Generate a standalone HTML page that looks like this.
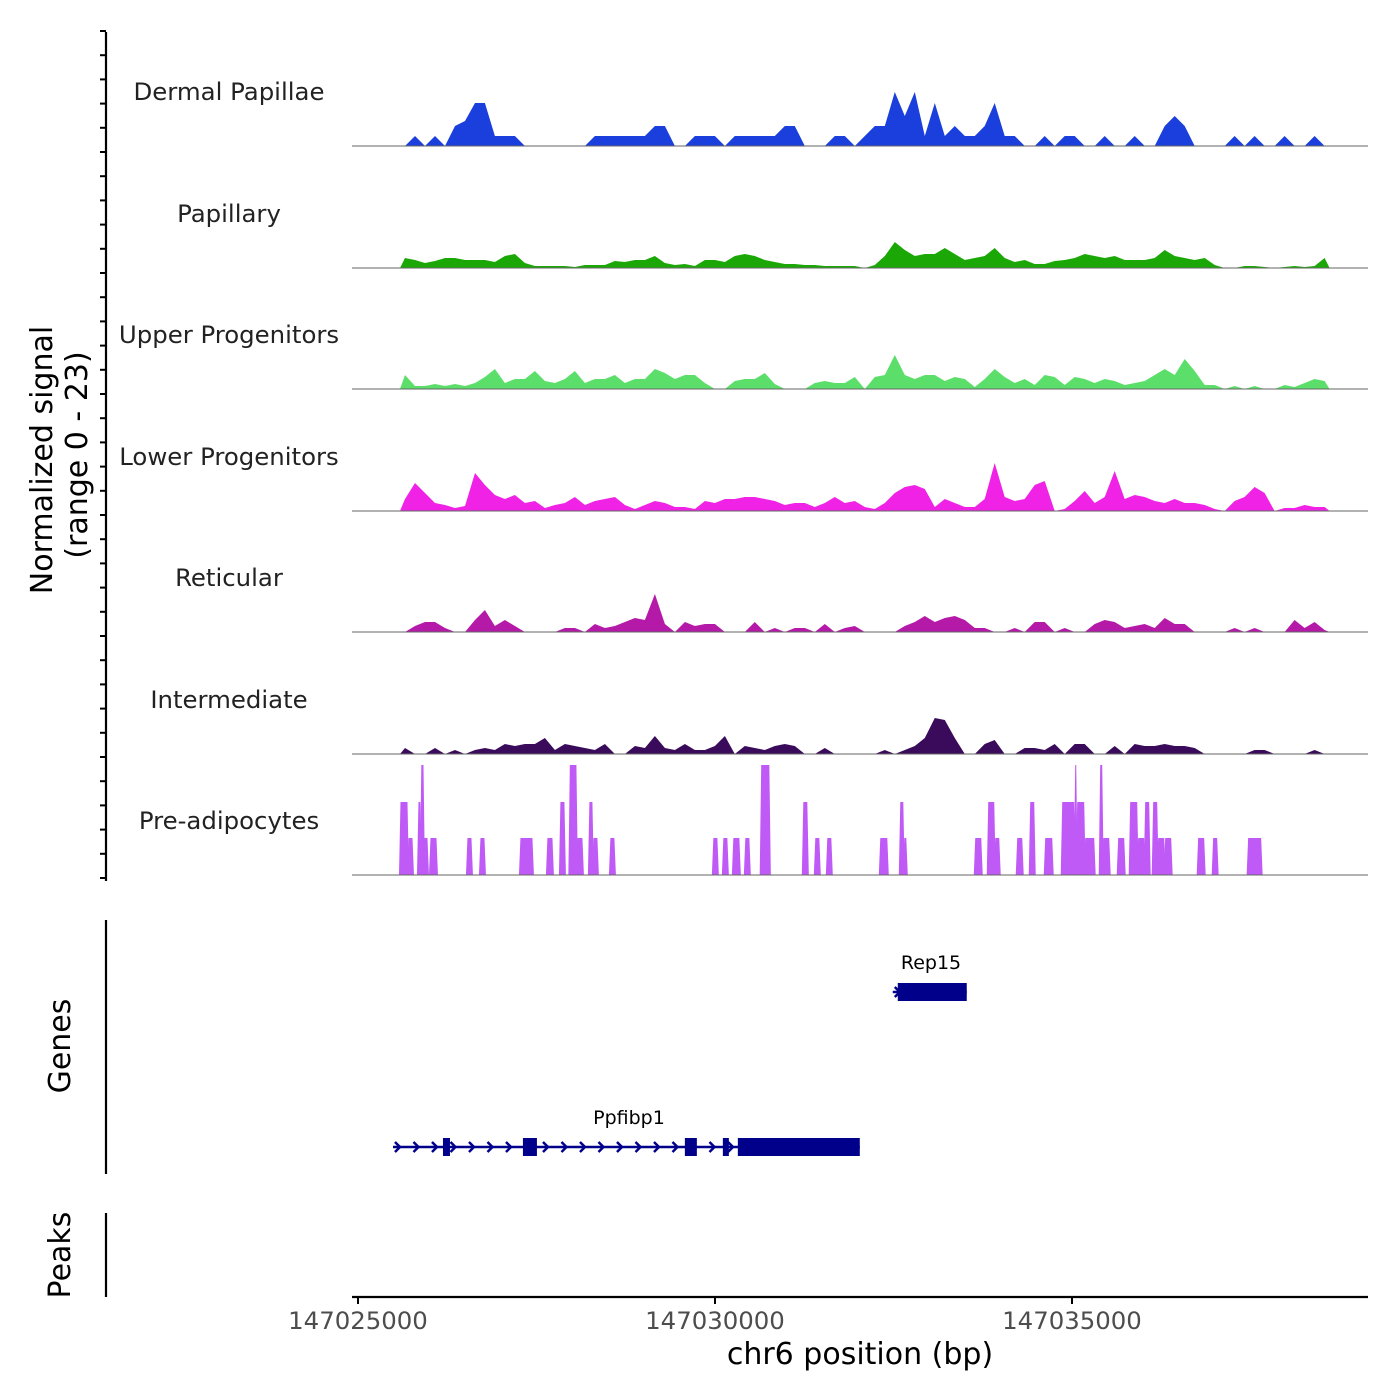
<!DOCTYPE html>
<html><head><meta charset="utf-8"><style>
html,body{margin:0;padding:0;background:#fff;}
svg{display:block;font-family:"DejaVu Sans","Liberation Sans",sans-serif;}
</style></head><body>
<svg id="chart" width="1400" height="1400" viewBox="0 0 1400 1400">
<g id="tracks"></g>
<g id="axes"></g>
<g id="genes"></g>
</svg>
<script>
// ---- data ----
const trackNames = ["Dermal Papillae","Papillary","Upper Progenitors","Lower Progenitors","Reticular","Intermediate"];
const trackColors = ["#1a3fdd","#1ba806","#5cdf6a","#ef22e6","#b419a8","#3a0b5a"];
const binStart = 147025588; // bp of first bin
const binSize = 140;        // bp per bin
const dermal = [0,2,0,2,0,4,5,8.6,8.6,2,2,2,0,0,0,0,0,0,0,2,2,2,2,2,2,4,4,0,0,2,2,2,0,2,2,2,2,2,4,4,0,0,0,2,2,0,2,4,4,10.8,6,10.8,2,8.6,2,4,2,2,4,8.6,2,2,0,0,2,0,2,2,0,0,2,0,0,2,0,0,4,6,4,0,0,0,0,2,0,2,0,0,2,0,0,2,0];
const papillary = [2,1.6,1,1.4,2,2,1.6,1.6,1.6,1.2,2.4,2.8,1,0.4,0.4,0.4,0.4,0.2,0.6,0.6,0.6,1.4,1.2,1.6,1.6,2.4,1,0.6,0.8,0.4,1.6,1.6,1.2,2.4,2.8,2.4,1.6,1.2,0.8,0.8,0.6,0.6,0.4,0.4,0.4,0.4,0,0.6,2.4,5.2,3.6,2.4,2.8,2.8,4,2.8,1.6,2,2.4,4,2,1.2,1.6,0.8,0.8,1.4,1.6,2,2.8,2.4,2,2.4,1.6,1.6,1.6,2,3.6,2.4,2,1.6,2,0.6,0,0,0.4,0.4,0.2,0,0.2,0.4,0.2,0.4,2];
const upper = [2.8,0.6,0.6,1,0.6,1,0.6,1.2,2.4,4,1.2,2,2,3.6,1.6,1.2,2,3.6,1.2,2,2,2.8,1.2,2,2,4,3.2,2,2.8,2.8,1.2,0,0,1.6,2,2,3.2,1,0,0,0,1.2,1.6,1.2,1.2,2.4,0,2.4,2.8,6.8,2.8,2,2.8,2.8,1.6,2.4,2,0.4,2,4,2.4,1.2,2,0.8,2.8,2.4,0.8,2.4,2,1.2,2,1.6,0.8,1.2,1.6,2.8,4,2.8,6,3.6,0.8,0.8,0,0.6,0,0.6,0,0,0.8,0.4,1.2,2,1.6];
const lower = [2.4,5.6,3.6,1.6,1.2,0.6,1,7.6,5.2,3.2,2.4,3.2,1.6,2,0.6,1.2,1.6,2.8,1.2,2,2.4,2.8,1.2,0.4,1.2,2,1.6,0.8,0.8,0.4,2,1.6,2.4,2.4,2.8,2.8,2.4,2,1.2,1.6,1.6,0.8,1.6,2.8,1.6,2,0.8,0.4,1.6,3.6,4.8,5.2,4.4,0.8,2.4,1.6,0.8,0.8,2.4,9.6,2.8,2,2.4,5.2,6,0,0.4,2,4,1.6,2.8,8,2.4,3.2,2.8,2,1.6,2.4,1.6,1.6,1.2,0.4,0,2,2.8,4.8,3.6,0,0.6,0.6,1.2,0.8,0.8];
const reticular = [0,1.2,2,2,0.8,0,0,2.4,4.4,1.2,2.4,1.2,0,0,0,0,0.8,0.8,0,1.6,0.8,1.2,2,2.8,2.4,7.6,1.6,0,2,1.2,1.6,1.6,0,0,0,2,0,0.8,0,0.8,0.8,0,1.6,0,0.8,1.2,0,0,0,0,1.2,2,3.2,2,2.8,3.2,2.4,0.8,0.8,0,0,0.8,0,2,2,0,0.8,0,0,1.6,2.4,2,0.8,1.2,1.6,0.8,2.8,1.6,1.6,0,0,0,0,0.8,0,0.8,0,0,0,2.4,0.8,2,0.4];
const intermediate = [1.2,0,0,1.2,0,0.8,0,0.8,1.2,0.8,2,1.6,2,2,3.2,0.8,2,1.6,1.2,0.8,2,0,0,1.6,1.2,3.6,1.2,0.8,2,0.8,0.8,1.6,3.6,0,1.6,1.2,0.8,1.6,2,1.6,0,0,1.2,0,0,0,0,0,0.8,0,0.8,1.6,3.2,7.2,6.8,3.2,0,0,2,2.8,0,0,1.2,1.2,0.8,2,0,2,2,0,0,1.6,0,2,1.6,1.6,2,1.6,1.6,1.2,0,0,0,0,0,0.8,0.8,0,0,0,0,0.8,0];
const trackValues = [dermal,papillary,upper,lower,reticular,intermediate];
// pre-adipocytes: intervals (bp offset from 147025000) and values
const adipStart = [588,700,840,880,924,1008,1526,1708,2268,2646,2828,2960,3066,3234,3290,3528,4970,5110,5250,5418,5640,6230,6398,6566,7308,7588,7644,8638,8820,8918,9226,9408,9618,9856,10038,10066,10178,10388,10430,10640,10808,10920,11018,11130,11200,11298,11760,11970,12460];
const adipEnd   = [700,770,880,924,980,1106,1596,1778,2450,2730,2898,3066,3150,3290,3360,3598,5040,5180,5348,5488,5768,6300,6468,6636,7420,7644,7686,8736,8918,8988,9310,9478,9730,10038,10066,10178,10318,10430,10528,10738,10920,11018,11088,11200,11298,11396,11858,12040,12656];
const adipValue = [14.6,7.4,14.6,22,7.4,7.4,7.4,7.4,7.4,7.4,14.6,22,7.4,14.6,7.4,7.4,7.4,7.4,7.4,7.4,22,14.6,7.4,7.4,7.4,14.6,7.4,7.4,14.6,7.4,7.4,14.6,7.4,14.6,22,14.6,7.4,22,7.4,7.4,14.6,7.4,14.6,14.6,7.4,7.4,7.4,7.4,7.4];
const xTicks = [147025000,147030000,147035000];
const xTickLabels = ["147025000","147030000","147035000"];
// genes
const geneNames = ["Rep15","Ppfibp1"];
const geneStart = [147032490,147025490];
const geneEnd = [147033526,147032028];
const geneExonStarts = [[147032560],[147026190,147027310,147029578,147030110,147030320]];
const geneExonEnds = [[147033526],[147026288,147027506,147029746,147030194,147032028]];

// ---- scales ----
const NS="http://www.w3.org/2000/svg";
const X0=358, PXBP=357/5000;
const xs = bp => X0 + (bp-147025000)*PXBP;
const YMAX=23, HPX=115;
const ys = (v,base) => base - v/YMAX*HPX;
const baselines=[146,268,389,511,632,754,875];
const labelY=[92,214,335,457,578,700,821];
function mk(tag,attrs,parent){const e=document.createElementNS(NS,tag);for(const k in attrs)e.setAttribute(k,attrs[k]);parent.appendChild(e);return e;}
const gT=document.getElementById('tracks');
const allNames=trackNames.concat(["Pre-adipocytes"]);
allNames.forEach((n,i)=>{
  const t=mk('text',{x:229,y:labelY[i]+8,'text-anchor':'middle','font-size':24.4,fill:'#222'},gT);
  t.textContent=n;
  
  
});
trackValues.forEach((vals,i)=>{
  const b=baselines[i];
  let d='M'+xs(binStart)+','+b;
  vals.forEach((v,j)=>{const c=binStart+(j+0.5)*binSize;d+=' L'+xs(c).toFixed(1)+','+ys(v,b).toFixed(1);});
  d+=' L'+xs(binStart+vals.length*binSize).toFixed(1)+','+b+' Z';
  const p=mk('path',{d:d,fill:trackColors[i]},gT);
  
  
});
// pre-adipocytes
adipStart.forEach((s,i)=>{
  const b=baselines[6], x1=xs(147025000+s), x2=xs(147025000+adipEnd[i]), y=ys(adipValue[i],b);
  const p=mk('polygon',{points:`${x1-1},${b} ${x1+0.5},${y} ${x2-0.5},${y} ${x2+1},${b}`,fill:'#c05af7'},gT);
  
  
});
baselines.forEach(b=>{
  const l=mk('line',{x1:352,x2:1368,y1:b,y2:b,stroke:'#666','stroke-width':1},gT);
  
  
});
// axes
const gA=document.getElementById('axes');
function line(x1,y1,x2,y2,w,name){const l=mk('line',{x1,y1,x2,y2,stroke:'#000','stroke-width':w},gA);return l;}
line(106,32,106,881,2.2,'signal-y-axis-line');
for(let k=0;k<36;k++){const y=878-k*24.2;line(100,y,106,y,2,'signal-y-axis-tick');}
line(106,920,106,1174,2.2,'genes-axis-line');
line(106,1213,106,1297,2.2,'peaks-axis-line');
line(352,1297,1368,1297,2.2,'x-axis-line');
xTicks.forEach((t,i)=>{
  line(xs(t),1297,xs(t),1304,2,'x-axis-tick');
  const tx=mk('text',{x:xs(t),y:1329,'text-anchor':'middle','font-size':24.4,fill:'#4d4d4d'},gA);
  tx.textContent=xTickLabels[i];
  
  
});
function txt(s,attrs,name){const t=mk('text',attrs,gA);t.textContent=s;return t;}
txt('chr6 position (bp)',{x:860,y:1364,'text-anchor':'middle','font-size':30,fill:'#000'},'x-axis-title');
txt('Normalized signal',{x:0,y:0,'text-anchor':'middle','font-size':30,transform:'translate(52,460) rotate(-90)'},'y-axis-title');
txt('(range 0 - 23)',{x:0,y:0,'text-anchor':'middle','font-size':30,transform:'translate(87,455) rotate(-90)'},'y-axis-range');
txt('Genes',{x:0,y:0,'text-anchor':'middle','font-size':30,transform:'translate(70,1046) rotate(-90)'},'genes-axis-title');
txt('Peaks',{x:0,y:0,'text-anchor':'middle','font-size':30,transform:'translate(70,1255) rotate(-90)'},'peaks-axis-title');
// genes
const gG=document.getElementById('genes');
const geneY=[992,1147];
geneNames.forEach((g,i)=>{
  const y=geneY[i], x1=xs(geneStart[i]), x2=xs(geneEnd[i]);
  const l=mk('line',{x1,x2,y1:y,y2:y,stroke:'#00008b','stroke-width':2.5},gG);
  
  
  for(let x=x1+2;x<x2-4;x+=18.5){
    const c=mk('polyline',{points:`${x},${y-5} ${x+5},${y} ${x},${y+5}`,fill:'none',stroke:'#00008b','stroke-width':2.5},gG);
    
    
  }
  geneExonStarts[i].forEach((s,j)=>{
    const a=xs(s), b=xs(geneExonEnds[i][j]);
    const r=mk('rect',{x:a,y:y-9,width:b-a,height:18,fill:'#00008b'},gG);
    
    
  });
  const t=mk('text',{x:(i==0?931:629),y:y-23,'text-anchor':'middle','font-size':19,fill:'#000'},gG);
  t.textContent=g;
  
  
});
</script>
</body></html>
